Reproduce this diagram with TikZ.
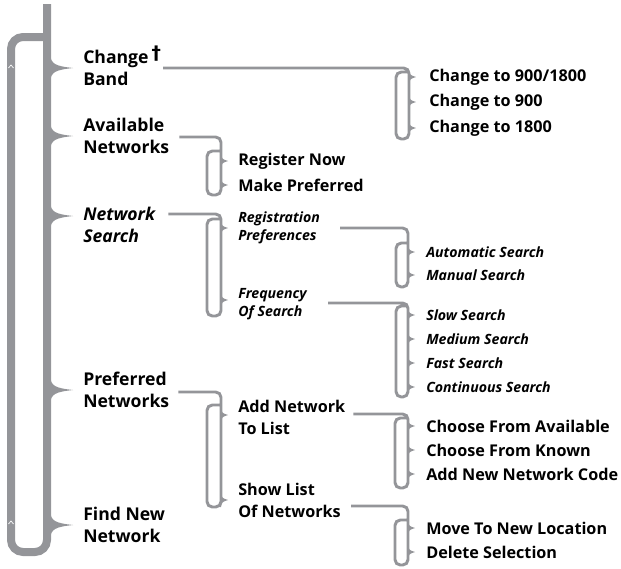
\documentclass[tikz,border=0pt]{standalone}
\usepackage{fontspec}
\setmainfont{Open Sans}
\newfontfamily\daggerfont{DejaVu Sans}
\usetikzlibrary{calc}
\definecolor{menugray}{RGB}{148,149,153}

\tikzset{
  menu/.style={anchor=west,inner sep=0pt,align=left,font=\bfseries\fontsize{13.2}{16.5}\selectfont},
  menuit/.style={menu,font=\bfseries\itshape\fontsize{13.2}{16.5}\selectfont},
  item/.style={anchor=west,inner sep=0pt,align=left,font=\bfseries\fontsize{12.15}{16.5}\selectfont},
  itemit/.style={item,font=\bfseries\itshape\fontsize{10.6}{13.5}\selectfont},
  trunk/.style={draw=menugray,line width=6pt,rounded corners=9pt},
  branch/.style={draw=menugray,line width=2.2pt,rounded corners=4pt},
  maintip/.pic={\fill[menugray] (3,-14) .. controls (4,-4) and (8,-2) .. (26,0)
      .. controls (8,2) and (4,4) .. (3,14) -- (-1,14) -- (-1,-14) -- cycle;},
  subtip/.pic={\fill[menugray] (0,-7) .. controls (1,-2) .. (7,0)
      .. controls (1,2) .. (0,7) -- (-1,7) -- (-1,-7) -- cycle;}
}

\begin{document}
\begin{tikzpicture}[x=0.75pt,y=-0.75pt]
\useasboundingbox (0,0) rectangle (621,568);

% main menu
\draw[trunk] (47,4) -- (47,552) -- (11,552) -- (11,37) -- (47,37);
\draw[white,line width=0.5pt] (8.5,68) -- (11,65) -- (13.5,68);
\draw[white,line width=0.5pt] (8.5,524) -- (11,521) -- (13.5,524);
\node[menu] (band) at (83,68) {Change\,\smash{\raisebox{3pt}{\daggerfont\bfseries\fontsize{14}{14}\selectfont †}}\\Band};
\node[menu] (avail) at (83,136) {Available\\Networks};
\node[menuit] (search) at (83,225) {Network\\Search};
\node[menu] (pref) at (83,390) {Preferred\\Networks};
\node[menu] (find) at (83,525) {Find New\\Network};
\pic at (47,0 |- band.west) {maintip};
\pic at (47,0 |- avail.west) {maintip};
\pic at (47,216) {maintip};
\pic at (47,0 |- pref.west) {maintip};
\pic at (47,0 |- find.west) {maintip};

% change band
\node[item] (c918) at (429,77) {Change to 900/1800};
\node[item] (c900) at (429,102) {Change to 900};
\node[item] (c1800) at (429,128) {Change to 1800};
\draw[branch] ($(band.east)+(2,0)$) -| (409,139) -- (396,139) -- (396,72) -- (409,72);
\foreach \n in {c918,c900,c1800} \pic at (409,0 |- \n.west) {subtip};

% available networks
\node[item] (regnow) at (238,161) {Register Now};
\node[item] (makepref) at (238,185) {Make Preferred};
\draw[branch] ($(avail.east)+(10,1)$) -| (221,195) -- (207,195) -- (207,151) -- (221,151);
\foreach \n in {regnow,makepref} \pic at (221,0 |- \n.west) {subtip};

% network search
\node[itemit] (regpref) at (238,228) {Registration\\Preferences};
\node[itemit] (freq) at (238,304) {Frequency\\Of Search};
\draw[branch] ($(search.east)+(13,-11)$) -| (221,316) -- (207,316) -- (207,219) -- (221,219);
\pic at (221,0 |- regpref.west) {subtip};
\pic at (221,300) {subtip};

\node[itemit] (autos) at (426,252) {Automatic Search};
\node[itemit] (manual) at (426,275) {Manual Search};
\draw[branch] ($(regpref.east)+(20,0)$) -| (408,287) -- (396,287) -- (396,243) -- (408,243);
\foreach \n in {autos,manual} \pic at (408,0 |- \n.west) {subtip};

\node[itemit] (slow) at (426,315) {Slow Search};
\node[itemit] (medium) at (426,339) {Medium Search};
\node[itemit] (fast) at (426,363) {Fast Search};
\node[itemit] (cont) at (426,387) {Continuous Search};
\draw[branch] ($(freq.east)+(21,-1)$) -| (408,397) -- (396,397) -- (396,306) -- (408,306);
\foreach \n in {slow,medium,fast,cont} \pic at (408,0 |- \n.west) {subtip};

% preferred networks
\node[item] (addnet) at (238,417) {Add Network\\To List};
\node[item] (showlist) at (238,500) {Show List\\Of Networks};
\draw[branch] ($(pref.east)+(9,2)$) -| (221,507) -- (207,507) -- (207,405) -- (221,405);
\pic at (221,415) {subtip};
\pic at (221,0 |- showlist.west) {subtip};

\node[item] (fromavail) at (426,426) {Choose From Available};
\node[item] (fromknown) at (426,450) {Choose From Known};
\node[item] (newcode) at (426,474) {Add New Network Code};
\draw[branch] ($(addnet.east)+(8,-3)$) -| (408,488) -- (395,488) -- (395,418) -- (408,418);
\foreach \n in {fromavail,fromknown,newcode} \pic at (408,0 |- \n.west) {subtip};

\node[item] (moveloc) at (426,528) {Move To New Location};
\node[item] (delsel) at (426,552) {Delete Selection};
\draw[branch] ($(showlist.east)+(10,6)$) -| (408,565) -- (395,565) -- (395,520) -- (408,520);
\foreach \n in {moveloc,delsel} \pic at (408,0 |- \n.west) {subtip};
\end{tikzpicture}
\end{document}
